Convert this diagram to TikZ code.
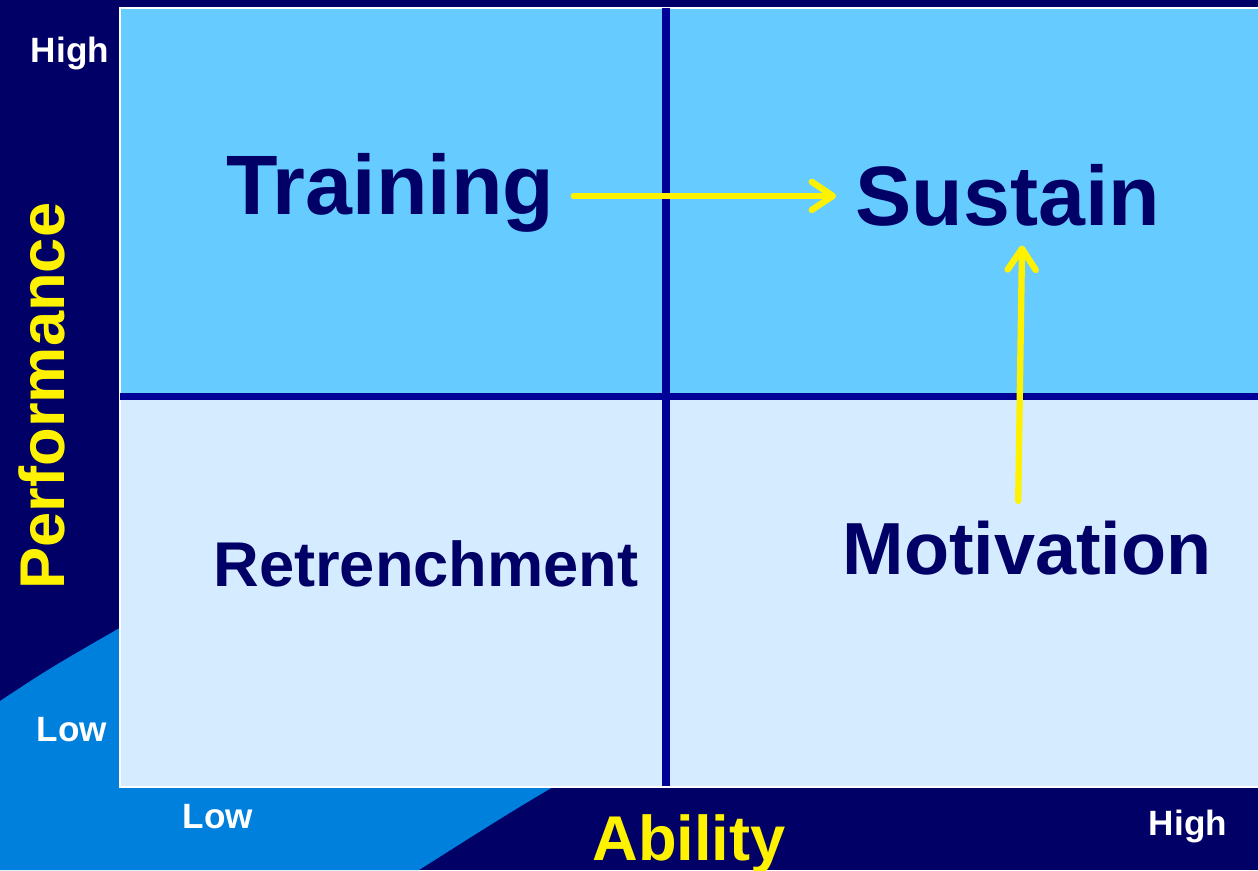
\documentclass[tikz,border=0pt]{standalone}
\usepackage{fontspec}
\setmainfont{Liberation Sans}
\usetikzlibrary{arrows.meta}

\definecolor{navy}{RGB}{0,0,102}
\definecolor{swoosh}{RGB}{0,128,221}
\definecolor{highzone}{RGB}{102,204,255}
\definecolor{lowzone}{RGB}{213,235,255}
\definecolor{divider}{RGB}{0,0,153}

\begin{document}
\begin{tikzpicture}[x=0.02cm,y=-0.02cm,
		quad/.style={text=navy, font=\bfseries, inner sep=11pt, anchor=base},
		axis/.style={text=yellow, font=\bfseries\fontsize{36}{40}\selectfont, inner sep=0pt, anchor=base},
		tick/.style={text=white, font=\bfseries\fontsize{20}{24}\selectfont, inner sep=0pt, anchor=base},
		flow/.style={draw=yellow, line width=3.6pt, line cap=round,
			-{Straight Barb[length=12pt, width=16pt, round]}}]
		\useasboundingbox (0,0) rectangle (1258,870);
		\fill[navy] (0,0) rectangle (1258,870);
		\fill[swoosh] (0,701) .. controls (50,668) .. (130,622) -- (600,500) -- (620,748)
			.. controls (520,806) .. (419,870) -- (0,870) -- cycle;
		% the four zones
		\fill[highzone] (120,8) rectangle (1258,396);
		\fill[lowzone] (120,396) rectangle (1258,787);
		\draw[white, line width=1.2pt] (1270,8) -- (120,8) -- (120,787) -- (1270,787);
		\draw[divider, line width=4pt] (666,8) -- (666,786);
		\draw[divider, line width=4pt] (120,396.5) -- (1258,396.5);
		% zone labels
		\node[quad, font=\bfseries\fontsize{48}{56}\selectfont] (Training) at (390,214) {Training};
		\node[quad, font=\bfseries\fontsize{48}{56}\selectfont] (Sustain) at (1008,225) {Sustain};
		\node[quad, font=\bfseries\fontsize{42}{50}\selectfont] (Motivation) at (1027,574) {Motivation};
		\node[quad, font=\bfseries\fontsize{36}{42}\selectfont] (Retrenchment) at (426,586) {Retrenchment};
		\draw[flow] ([yshift=-2pt]Training.east) -- ([yshift=-2pt]Training.east -| Sustain.west);
		\draw[flow] ([xshift=-5pt]Motivation.north) -- ([xshift=8pt]Sustain.south);
		% axes
		\node[axis, rotate=90] (Performance) at (64,396) {Performance};
		\node[axis] (Ability) at (689,860) {Ability};
		\node[tick] (yhigh) at (70,62) {High};
		\node[tick] (ylow) at (72,741) {Low};
		\node[tick] (xlow) at (218,828) {Low};
		\node[tick] (xhigh) at (1188,835) {High};
	\end{tikzpicture}
\end{document}
